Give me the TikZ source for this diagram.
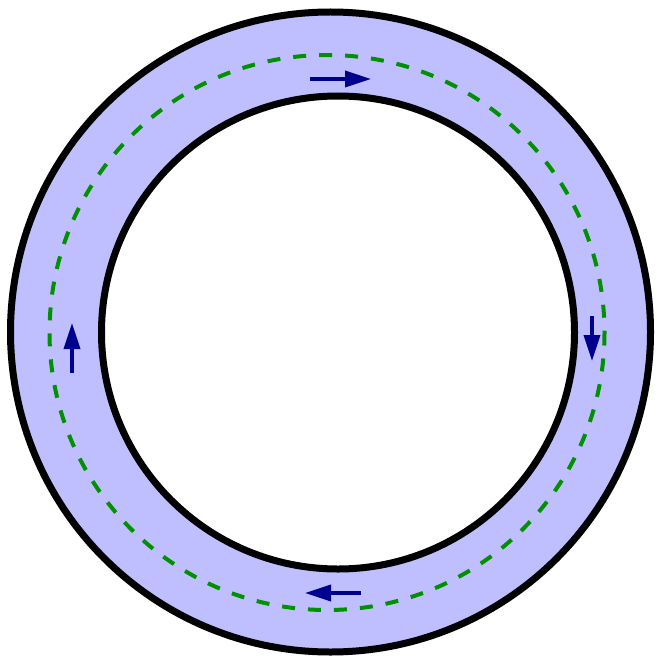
\documentclass[tikz,border=0pt]{standalone}
\usetikzlibrary{arrows.meta}
\definecolor{ringfill}{HTML}{BFBFFF}
\definecolor{dashgreen}{HTML}{009000}
\definecolor{arrowblue}{HTML}{00008F}
\begin{document}
\begin{tikzpicture}[x=1pt,y=-1pt,
  ringline/.style={draw=black,line width=7pt},
  flowline/.style={draw=dashgreen,line width=4pt,dash pattern=on 13pt off 13pt},
  flowarrow/.style={draw=arrowblue,line width=3.5pt,-{Triangle[length=26pt,width=16pt]}}]
\useasboundingbox (0,0) rectangle (656,658);
\coordinate (oc) at (330.5,332);
\coordinate (ic) at (338,332.5);
\coordinate (gc) at (327,332.5);
\fill[ringfill] (oc) circle[radius=320];
\fill[white] (ic) circle[radius=236.5];
\draw[flowline] (gc) circle[radius=277.5];
\draw[ringline] (oc) circle[radius=320];
\draw[ringline] (ic) circle[radius=236.5];
\coordinate (t1) at (310,79);  \coordinate (t2) at (371,79);
\coordinate (r1) at (592,316); \coordinate (r2) at (592,361);
\coordinate (b1) at (361,593); \coordinate (b2) at (305,593);
\coordinate (l1) at (72,373);  \coordinate (l2) at (72,323);
\draw[flowarrow] (t1) -- (t2);
\draw[flowarrow] (r1) -- (r2);
\draw[flowarrow] (b1) -- (b2);
\draw[flowarrow] (l1) -- (l2);
\end{tikzpicture}
\end{document}
